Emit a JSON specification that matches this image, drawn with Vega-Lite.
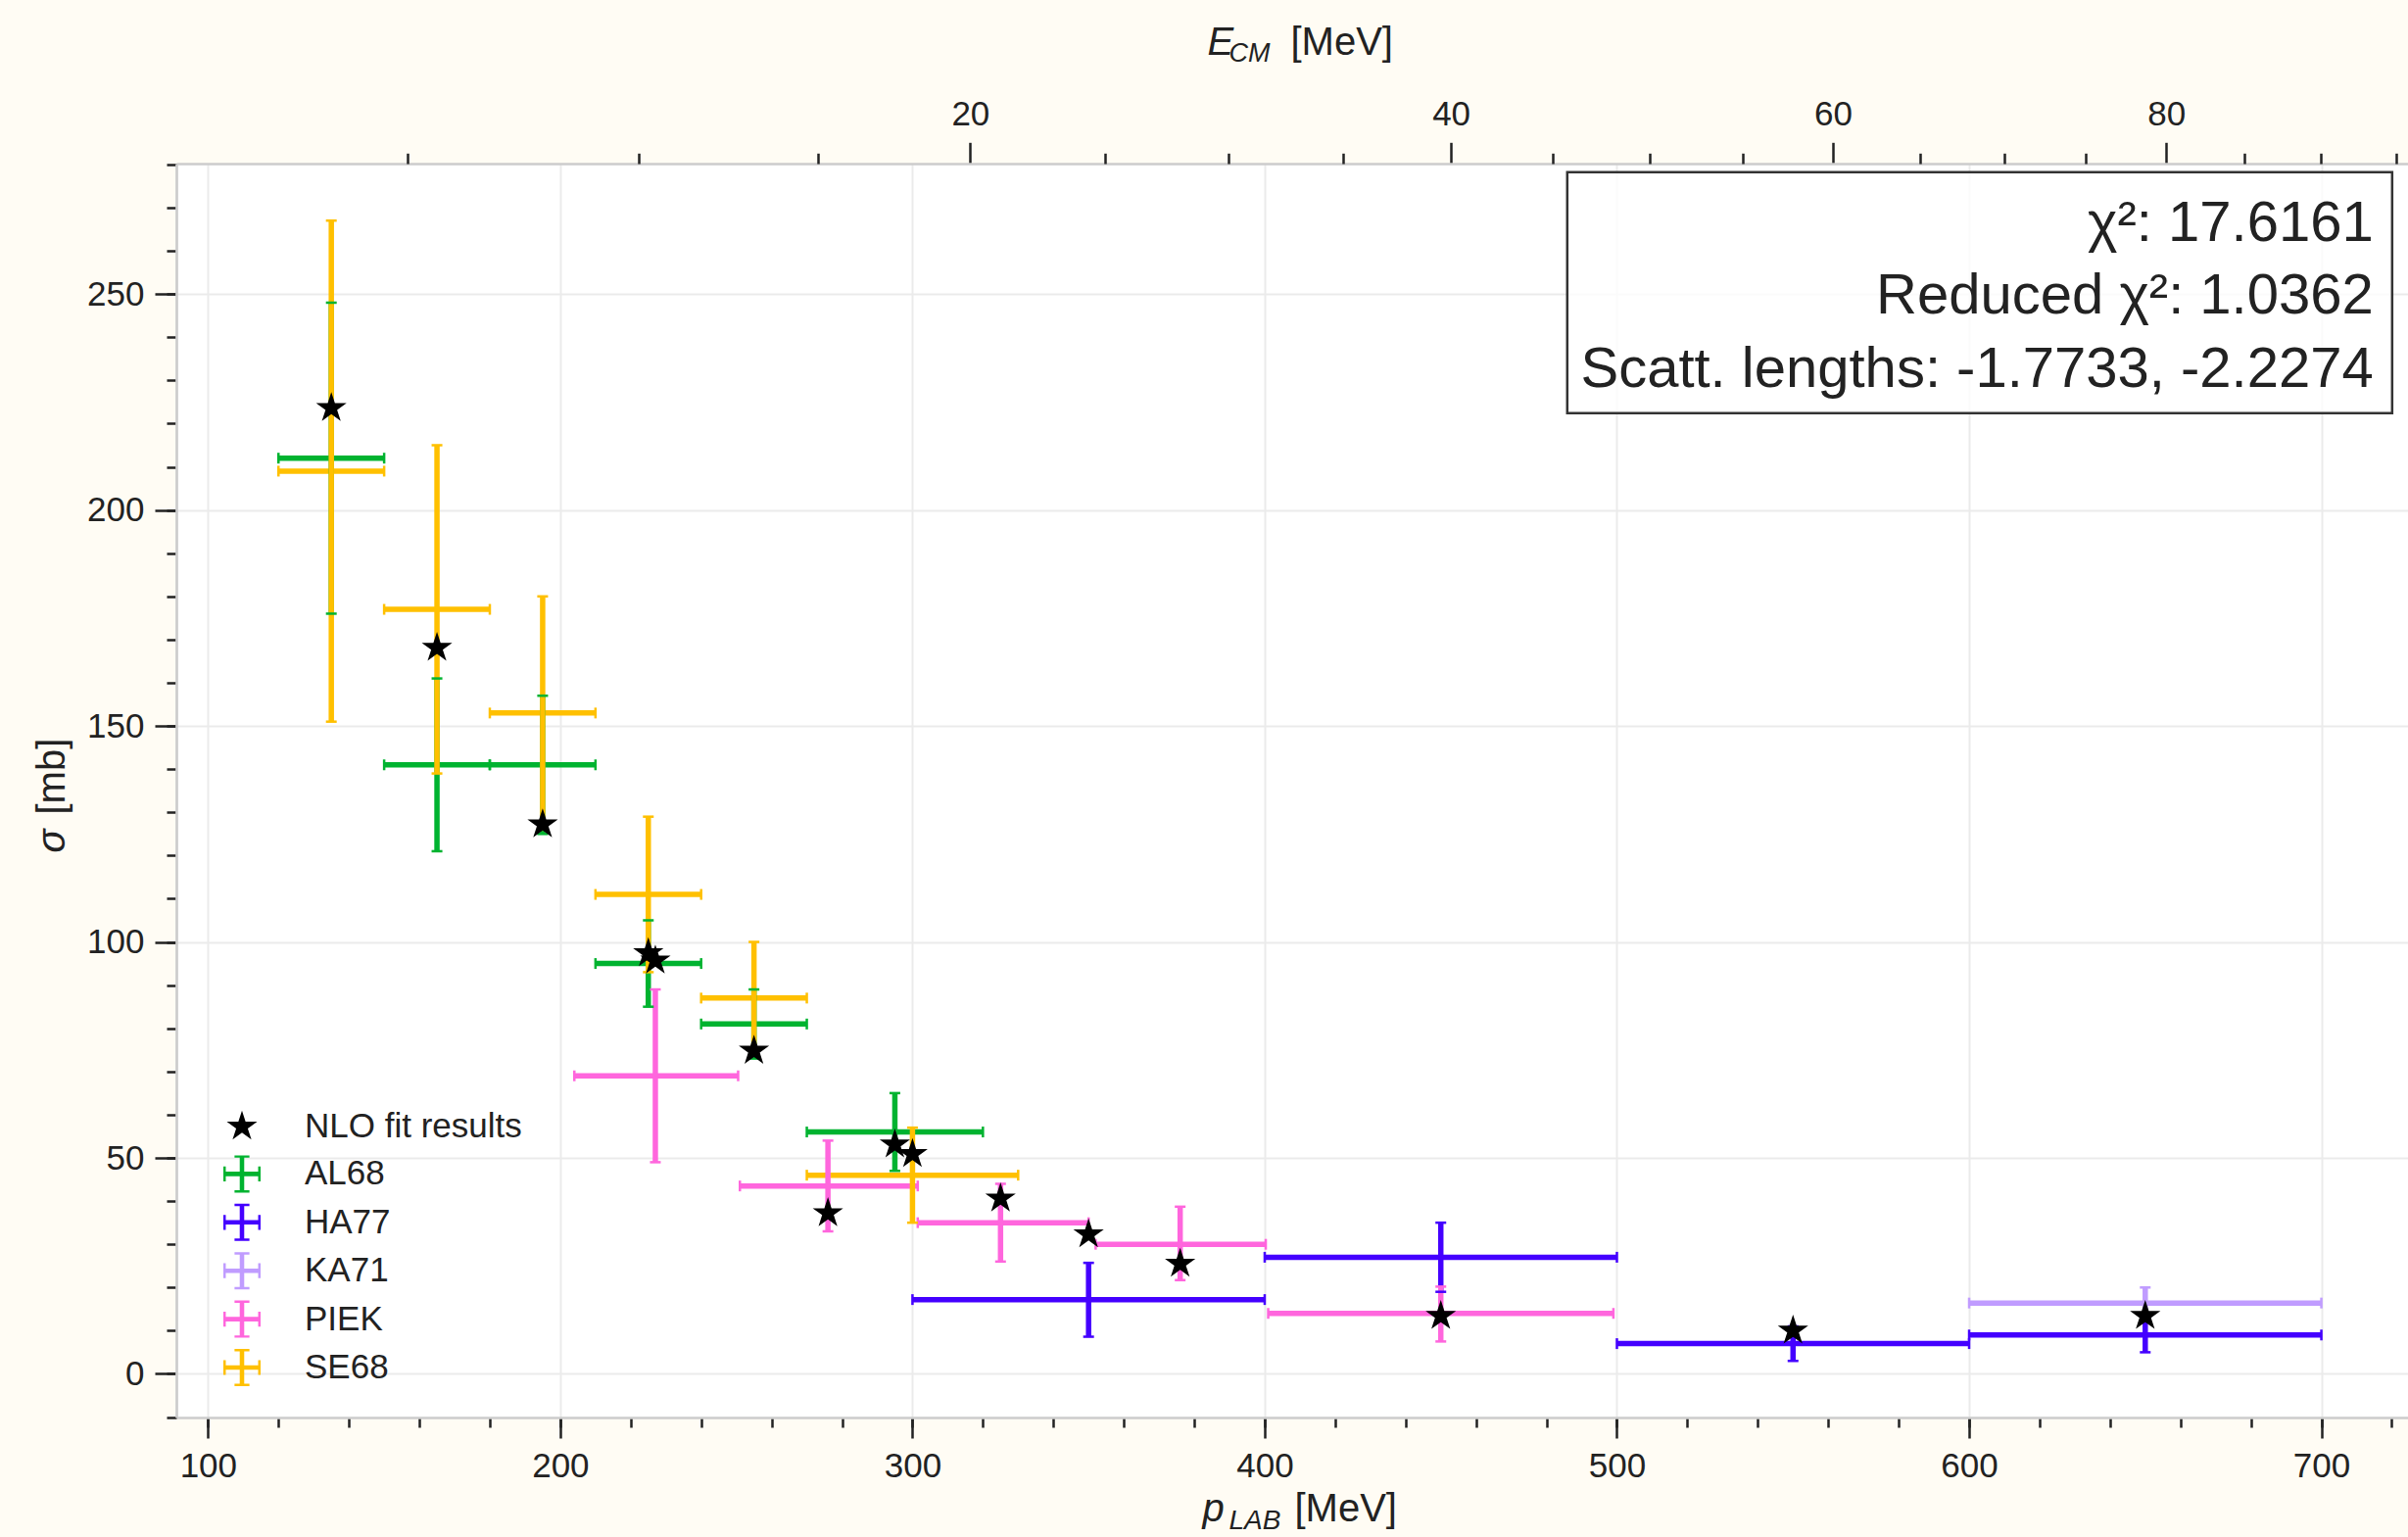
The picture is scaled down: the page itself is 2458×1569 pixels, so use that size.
{
  "$schema": "https://vega.github.io/schema/vega-lite/v6.json",
  "width": 2278,
  "height": 1280,
  "autosize": {"type": "none"},
  "padding": {"left": 180, "top": 167, "right": 0, "bottom": 122},
  "background": "#fffcf4",
  "config": {
    "view": {"fill": "white", "stroke": null},
    "axis": {
      "labelFont": "Liberation Sans", "labelFontSize": 35, "labelColor": "#222222",
      "titleFont": "Liberation Sans", "titleFontSize": 40, "titleColor": "#222222", "titleFontWeight": "normal",
      "tickColor": "#222222", "tickWidth": 2.5, "domainColor": "#cccccc", "domainWidth": 2.7,
      "gridColor": "#ebebeb", "gridWidth": 2, "labelPadding": 11, "tickSize": 21, "labelFlush": false
    }
  },
  "datasets": {
    "errs": [
      {"series": "AL68", "p": 135, "pLo": 120, "pHi": 150, "s": 212, "sLo": 176, "sHi": 248},
      {"series": "AL68", "p": 165, "pLo": 150, "pHi": 180, "s": 141, "sLo": 121, "sHi": 161},
      {"series": "AL68", "p": 195, "pLo": 180, "pHi": 210, "s": 141, "sLo": 125, "sHi": 157},
      {"series": "AL68", "p": 225, "pLo": 210, "pHi": 240, "s": 95, "sLo": 85, "sHi": 105},
      {"series": "AL68", "p": 255, "pLo": 240, "pHi": 270, "s": 81, "sLo": 73, "sHi": 89},
      {"series": "AL68", "p": 295, "pLo": 270, "pHi": 320, "s": 56, "sLo": 47, "sHi": 65},
      {"series": "HA77", "p": 350, "pLo": 300, "pHi": 400, "s": 17.2, "sLo": 8.6, "sHi": 25.7},
      {"series": "HA77", "p": 450, "pLo": 400, "pHi": 500, "s": 27, "sLo": 19, "sHi": 35},
      {"series": "HA77", "p": 550, "pLo": 500, "pHi": 600, "s": 7, "sLo": 3, "sHi": 11},
      {"series": "HA77", "p": 650, "pLo": 600, "pHi": 700, "s": 9, "sLo": 5, "sHi": 13},
      {"series": "KA71", "p": 650, "pLo": 600, "pHi": 700, "s": 16.4, "sLo": 12.8, "sHi": 20},
      {"series": "PIEK", "p": 227, "pLo": 204, "pHi": 250.5, "s": 69, "sLo": 49, "sHi": 89},
      {"series": "PIEK", "p": 276, "pLo": 251, "pHi": 301.5, "s": 43.5, "sLo": 33, "sHi": 54},
      {"series": "PIEK", "p": 325, "pLo": 301.5, "pHi": 350, "s": 35, "sLo": 26, "sHi": 44},
      {"series": "PIEK", "p": 376, "pLo": 352, "pHi": 400.3, "s": 30, "sLo": 21.7, "sHi": 38.7},
      {"series": "PIEK", "p": 450, "pLo": 401, "pHi": 499, "s": 14, "sLo": 7.5, "sHi": 20.2},
      {"series": "SE68", "p": 135, "pLo": 120, "pHi": 150, "s": 209, "sLo": 151, "sHi": 267},
      {"series": "SE68", "p": 165, "pLo": 150, "pHi": 180, "s": 177, "sLo": 139, "sHi": 215},
      {"series": "SE68", "p": 195, "pLo": 180, "pHi": 210, "s": 153, "sLo": 126, "sHi": 180},
      {"series": "SE68", "p": 225, "pLo": 210, "pHi": 240, "s": 111, "sLo": 93, "sHi": 129},
      {"series": "SE68", "p": 255, "pLo": 240, "pHi": 270, "s": 87, "sLo": 74, "sHi": 100},
      {"series": "SE68", "p": 300, "pLo": 270, "pHi": 330, "s": 46, "sLo": 35, "sHi": 57}
    ],
    "fit": [
      {"series": "NLO fit results", "p": 135, "s": 223.6},
      {"series": "NLO fit results", "p": 165, "s": 168.1},
      {"series": "NLO fit results", "p": 195, "s": 127.2},
      {"series": "NLO fit results", "p": 225, "s": 97.4},
      {"series": "NLO fit results", "p": 227, "s": 95.7},
      {"series": "NLO fit results", "p": 255, "s": 74.8},
      {"series": "NLO fit results", "p": 276, "s": 37.2},
      {"series": "NLO fit results", "p": 295, "s": 53.1},
      {"series": "NLO fit results", "p": 300, "s": 50.9},
      {"series": "NLO fit results", "p": 325, "s": 40.6},
      {"series": "NLO fit results", "p": 350, "s": 32.3},
      {"series": "NLO fit results", "p": 376, "s": 25.5},
      {"series": "NLO fit results", "p": 450, "s": 13.4},
      {"series": "NLO fit results", "p": 550, "s": 10.0},
      {"series": "NLO fit results", "p": 650, "s": 13.4}
    ]
  },
  "resolve": {"axis": {"x": "independent", "y": "independent"}},
  "layer": [
    {
      "data": {"name": "errs"},
      "mark": {"type": "rule", "strokeWidth": 5.5},
      "encoding": {
        "x": {"field": "pLo", "type": "quantitative",
          "scale": {"domain": [91, 724.6], "nice": false, "zero": false},
          "axis": {"orient": "bottom", "values": [100,120,140,160,180,200,220,240,260,280,300,320,340,360,380,400,420,440,460,480,500,520,540,560,580,600,620,640,660,680,700,720],
            "labels": false, "grid": false, "domain": false, "tickSize": 10,
            "title": "LAB", "titleFontStyle": "italic", "titleFontSize": 28, "titleX": 1074, "titleY": 113, "titleAlign": "left", "titleBaseline": "alphabetic"}},
        "x2": {"field": "pHi"},
        "y": {"field": "s", "type": "quantitative",
          "scale": {"domain": [-10.1, 280.2], "nice": false, "zero": false},
          "axis": {"orient": "left", "values": [-10,0,10,20,30,40,50,60,70,80,90,100,110,120,130,140,150,160,170,180,190,200,210,220,230,240,250,260,270,280],
            "labels": false, "grid": false, "domain": false, "tickSize": 10,
            "title": "[mb]", "titleAngle": 270, "titleX": -115, "titleY": 664, "titleAlign": "left", "titleBaseline": "alphabetic"}},
        "stroke": {"field": "series", "type": "nominal", "legend": null,
          "scale": {"domain": ["AL68", "HA77", "KA71", "PIEK", "SE68"], "range": ["#00b330", "#4400ff", "#c09cff", "#ff66dd", "#ffc000"]}}
      }
    },
    {
      "data": {"name": "errs"},
      "mark": {"type": "rule", "strokeWidth": 5.5},
      "encoding": {
        "x": {"field": "p", "type": "quantitative",
          "axis": {"orient": "top", "values": [316.39, 452.89, 561.35, 655.94],
            "labelExpr": "datum.value < 400 ? '20' : datum.value < 500 ? '40' : datum.value < 600 ? '60' : '80'",
            "grid": false, "domain": true, "tickSize": 21.7,
            "title": "E", "titleFontStyle": "italic", "titleX": 1052, "titleY": -112, "titleAlign": "left", "titleBaseline": "alphabetic"}},
        "y": {"field": "sLo", "type": "quantitative", "axis": null},
        "y2": {"field": "sHi"},
        "stroke": {"field": "series", "type": "nominal", "legend": null}
      }
    },
    {
      "data": {"name": "errs"},
      "mark": {"type": "tick", "orient": "vertical", "size": 11, "thickness": 2.5, "opacity": 1},
      "encoding": {
        "x": {"field": "pLo", "type": "quantitative",
          "axis": {"orient": "top", "values": [156.76, 222.37, 273.17, 354.81, 389.85, 422.36, 481.80, 509.39, 535.85, 586.02, 609.95, 633.23, 678.13, 699.85, 721.14],
            "labels": false, "grid": false, "domain": false, "tickSize": 10.7,
            "title": "CM", "titleFontStyle": "italic", "titleFontSize": 27, "titleX": 1074, "titleY": -104.3, "titleAlign": "left", "titleBaseline": "alphabetic"}},
        "y": {"field": "s", "type": "quantitative", "axis": null},
        "fill": {"field": "series", "type": "nominal", "legend": null,
          "scale": {"domain": ["AL68", "HA77", "KA71", "PIEK", "SE68"], "range": ["#00b330", "#4400ff", "#c09cff", "#ff66dd", "#ffc000"]}}
      }
    },
    {
      "data": {"name": "errs"},
      "mark": {"type": "tick", "orient": "vertical", "size": 11, "thickness": 2.5, "opacity": 1},
      "encoding": {
        "x": {"field": "pHi", "type": "quantitative",
          "axis": {"orient": "bottom", "ticks": false, "labels": false, "grid": false, "domain": false,
            "title": "[MeV]", "titleX": 1141, "titleY": 105.5, "titleAlign": "left", "titleBaseline": "alphabetic"}},
        "y": {"field": "s", "type": "quantitative", "axis": null},
        "fill": {"field": "series", "type": "nominal", "legend": null}
      }
    },
    {
      "data": {"name": "errs"},
      "mark": {"type": "tick", "orient": "horizontal", "size": 11, "thickness": 2.5, "opacity": 1},
      "encoding": {
        "x": {"field": "p", "type": "quantitative",
          "axis": {"orient": "top", "ticks": false, "labels": false, "grid": false, "domain": false,
            "title": "[MeV]", "titleX": 1137, "titleY": -112, "titleAlign": "left", "titleBaseline": "alphabetic"}},
        "y": {"field": "sLo", "type": "quantitative", "axis": null},
        "fill": {"field": "series", "type": "nominal", "legend": null}
      }
    },
    {
      "data": {"name": "errs"},
      "mark": {"type": "tick", "orient": "horizontal", "size": 11, "thickness": 2.5, "opacity": 1},
      "encoding": {
        "x": {"field": "p", "type": "quantitative", "axis": null},
        "y": {"field": "sHi", "type": "quantitative", "axis": null},
        "fill": {"field": "series", "type": "nominal", "legend": null}
      }
    },
    {
      "data": {"values": [{"note": "fit summary"}]},
      "mark": {"type": "rect", "fill": "white", "fillOpacity": 0.8, "stroke": "#333333", "strokeWidth": 2.5},
      "encoding": {
        "x": {"datum": 485.9, "type": "quantitative", "axis": null},
        "x2": {"datum": 720.1},
        "y": {"datum": 278.2, "type": "quantitative", "axis": null},
        "y2": {"datum": 222.4}
      }
    },
    {
      "data": {"values": [{"note": "fit summary"}]},
      "mark": {"type": "text", "text": ["χ²: 17.6161", "Reduced χ²: 1.0362", "Scatt. lengths: -1.7733, -2.2274"],
        "align": "right", "baseline": "alphabetic", "font": "Liberation Sans", "fontSize": 58, "lineHeight": 74.5, "color": "#222222"},
      "encoding": {
        "x": {"datum": 714.8, "type": "quantitative", "axis": null},
        "y": {"datum": 262.3, "type": "quantitative", "axis": null}
      }
    },
    {
      "data": {"name": "fit"},
      "mark": {"type": "point", "filled": true, "opacity": 1, "size": 1444, "strokeWidth": 0},
      "encoding": {
        "x": {"field": "p", "type": "quantitative",
          "axis": {"orient": "bottom", "values": [100,200,300,400,500,600,700], "grid": true, "tickSize": 21,
            "title": "p", "titleFontStyle": "italic", "titleX": 1047, "titleY": 105.5, "titleAlign": "left", "titleBaseline": "alphabetic"}},
        "y": {"field": "s", "type": "quantitative",
          "axis": {"orient": "left", "values": [0,50,100,150,200,250], "grid": true, "tickSize": 22,
            "title": "σ", "titleFontStyle": "italic", "titleAngle": 270, "titleX": -115, "titleY": 703, "titleAlign": "left", "titleBaseline": "alphabetic"}},
        "color": {"field": "series", "type": "nominal",
          "scale": {"domain": ["NLO fit results", "AL68", "HA77", "KA71", "PIEK", "SE68"], "range": ["#000000", "#00b330", "#4400ff", "#c09cff", "#ff66dd", "#ffc000"]},
          "legend": {"orient": "none", "legendX": 48, "legendY": 964, "direction": "vertical", "title": null, "padding": 0,
            "labelFont": "Liberation Sans", "labelFontSize": 35, "labelColor": "#222222", "labelLimit": 0, "symbolSize": 1444, "symbolStrokeWidth": 0,
            "rowPadding": 11.4, "labelOffset": 45, "symbolOpacity": 1}},
        "shape": {"field": "series", "type": "nominal",
          "scale": {"domain": ["NLO fit results", "AL68", "HA77", "KA71", "PIEK", "SE68"],
            "range": [
              "M0,-0.86L0.193,-0.266L0.818,-0.266L0.312,0.101L0.506,0.696L0,0.329L-0.506,0.696L-0.312,0.101L-0.818,-0.266L-0.193,-0.266Z",
              "M-1,-0.12H1V0.12H-1Z M-0.12,-1H0.12V1H-0.12Z M-1,-0.4H-0.87V0.4H-1Z M0.87,-0.4H1V0.4H0.87Z M-0.4,-1H0.4V-0.87H-0.4Z M-0.4,0.87H0.4V1H-0.4Z",
              "M-1,-0.12H1V0.12H-1Z M-0.12,-1H0.12V1H-0.12Z M-1,-0.4H-0.87V0.4H-1Z M0.87,-0.4H1V0.4H0.87Z M-0.4,-1H0.4V-0.87H-0.4Z M-0.4,0.87H0.4V1H-0.4Z",
              "M-1,-0.12H1V0.12H-1Z M-0.12,-1H0.12V1H-0.12Z M-1,-0.4H-0.87V0.4H-1Z M0.87,-0.4H1V0.4H0.87Z M-0.4,-1H0.4V-0.87H-0.4Z M-0.4,0.87H0.4V1H-0.4Z",
              "M-1,-0.12H1V0.12H-1Z M-0.12,-1H0.12V1H-0.12Z M-1,-0.4H-0.87V0.4H-1Z M0.87,-0.4H1V0.4H0.87Z M-0.4,-1H0.4V-0.87H-0.4Z M-0.4,0.87H0.4V1H-0.4Z",
              "M-1,-0.12H1V0.12H-1Z M-0.12,-1H0.12V1H-0.12Z M-1,-0.4H-0.87V0.4H-1Z M0.87,-0.4H1V0.4H0.87Z M-0.4,-1H0.4V-0.87H-0.4Z M-0.4,0.87H0.4V1H-0.4Z"
            ]},
          "legend": {"orient": "none", "legendX": 48, "legendY": 964, "direction": "vertical", "title": null, "padding": 0,
            "labelFont": "Liberation Sans", "labelFontSize": 35, "labelColor": "#222222", "labelLimit": 0, "symbolSize": 1444, "symbolStrokeWidth": 0,
            "rowPadding": 11.4, "labelOffset": 45, "symbolOpacity": 1}}
      }
    }
  ]
}
